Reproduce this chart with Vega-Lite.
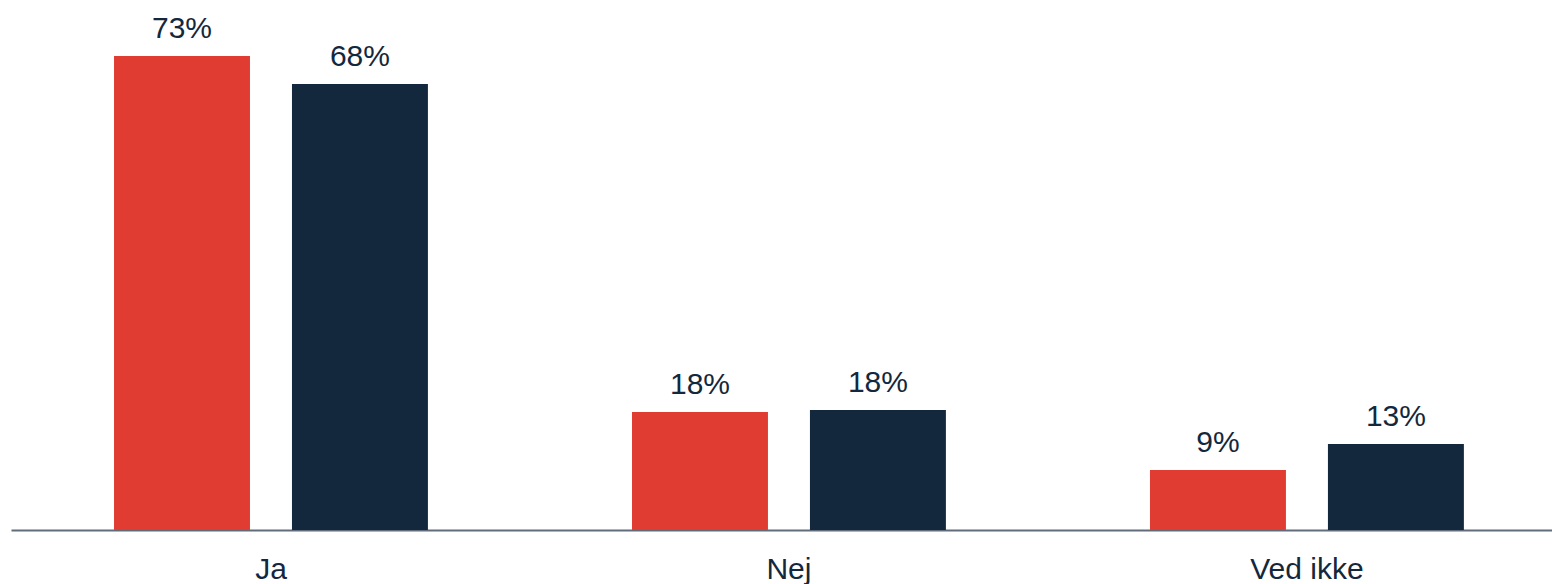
{
  "$schema": "https://vega.github.io/schema/vega-lite/v6.json",
  "width": 1541,
  "height": 522,
  "autosize": {"type": "none"},
  "padding": {"left": 11, "top": 8, "right": 0, "bottom": 54},
  "config": {"view": {"stroke": null}, "font": "Liberation Sans"},
  "data": {
    "values": [
      {"svar": "Ja", "serie": "A", "andel": 0.7264},
      {"svar": "Ja", "serie": "B", "andel": 0.6835},
      {"svar": "Nej", "serie": "A", "andel": 0.1808},
      {"svar": "Nej", "serie": "B", "andel": 0.1839},
      {"svar": "Ved ikke", "serie": "A", "andel": 0.092},
      {"svar": "Ved ikke", "serie": "B", "andel": 0.1318}
    ]
  },
  "encoding": {
    "x": {
      "field": "svar",
      "type": "nominal",
      "sort": ["Ja", "Nej", "Ved ikke"],
      "scale": {"paddingInner": 0.394, "paddingOuter": 0.1845, "align": 0.539, "round": false},
      "axis": {
        "title": null,
        "labelAngle": 0,
        "ticks": false,
        "grid": false,
        "domainColor": "#606C7A",
        "domainWidth": 2,
        "labelFontSize": 30,
        "labelColor": "#13283D",
        "labelPadding": 24
      }
    },
    "xOffset": {
      "field": "serie",
      "type": "nominal",
      "sort": ["A", "B"],
      "scale": {"paddingInner": 0.236, "paddingOuter": 0}
    },
    "y": {
      "field": "andel",
      "type": "quantitative",
      "scale": {"domain": [0, 0.8]},
      "axis": null
    }
  },
  "layer": [
    {
      "mark": {"type": "bar"},
      "encoding": {
        "color": {
          "field": "serie",
          "type": "nominal",
          "scale": {"domain": ["A", "B"], "range": ["#E03C31", "#13283D"]},
          "legend": null
        }
      }
    },
    {
      "mark": {"type": "text", "dy": -18, "baseline": "alphabetic", "fontSize": 30, "color": "#13283D"},
      "encoding": {
        "text": {"field": "andel", "type": "quantitative", "format": ".0%"}
      }
    }
  ]
}
